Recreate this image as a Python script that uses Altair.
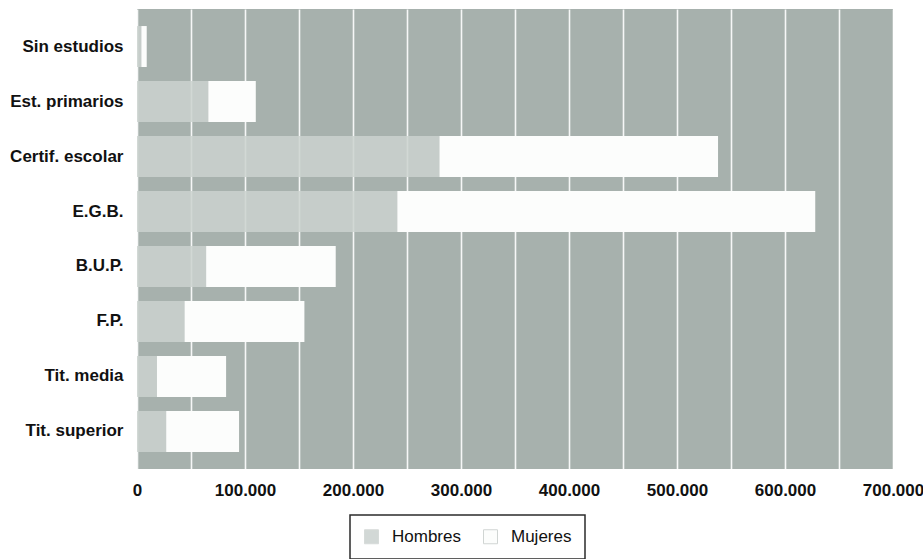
import altair as alt
import pandas as pd

# Niveles de estudios (de arriba abajo) y población por sexo
categorias = [
    "Sin estudios",
    "Est. primarios",
    "Certif. escolar",
    "E.G.B.",
    "B.U.P.",
    "F.P.",
    "Tit. media",
    "Tit. superior",
]
hombres = [4000, 66000, 280000, 241000, 64000, 44000, 18500, 27000]
mujeres = [5000, 44000, 258000, 387000, 120000, 111000, 64000, 67500]

series = ["Hombres", "Mujeres"]
colores = ["#cbd2cf", "#fcfdfc"]
opacidades = [0.85, 1.0]

# Líneas de rejilla cada 50.000; etiquetas cada 100.000
marcas_eje = [0, 50000, 100000, 150000, 200000, 250000, 300000, 350000,
              400000, 450000, 500000, 550000, 600000, 650000, 700000]

filas = []
for cat, h, m in zip(categorias, hombres, mujeres):
    filas.append({"nivel": cat, "sexo": "Hombres", "valor": h, "orden": 0})
    filas.append({"nivel": cat, "sexo": "Mujeres", "valor": m, "orden": 1})
df = pd.DataFrame(filas)

chart = (
    alt.Chart(df)
    .mark_bar()
    .encode(
        y=alt.Y(
            "nivel:N",
            sort=categorias,
            title=None,
            scale=alt.Scale(paddingInner=0.255, paddingOuter=0.31),
            axis=alt.Axis(
                ticks=False,
                domain=False,
                labelFont="Liberation Sans",
                labelFontWeight="bold",
                labelFontSize=17,
                labelColor="#111111",
                labelPadding=14,
            ),
        ),
        x=alt.X(
            "valor:Q",
            stack="zero",
            title=None,
            scale=alt.Scale(domain=[0, 700000], nice=False),
            axis=alt.Axis(
                values=marcas_eje,
                labelExpr="datum.value % 100000 ? '' : replace(format(datum.value, ',d'), ',', '.')",
                ticks=False,
                domain=False,
                grid=True,
                gridColor="#ffffff",
                gridWidth=1.6,
                gridOpacity=0.9,
                labelFont="Liberation Sans",
                labelFontWeight="bold",
                labelFontSize=17,
                labelColor="#111111",
                labelPadding=13,
                labelFlush=False,
                labelOverlap=False,
            ),
        ),
        color=alt.Color(
            "sexo:N",
            scale=alt.Scale(domain=series, range=colores),
            legend=alt.Legend(
                title=None,
                orient="none",
                direction="horizontal",
                legendX=213,
                legendY=506,
                symbolType="square",
                symbolSize=196,
                symbolStrokeColor="#d0d5d3",
                symbolStrokeWidth=1,
                symbolOpacity=1,
                labelFont="Liberation Sans",
                labelFontSize=17,
                labelColor="#111111",
                labelOffset=12,
                columnPadding=20,
                padding=13,
                strokeColor="#2b2b2b",
                fillColor="#ffffff",
            ),
        ),
        opacity=alt.Opacity(
            "sexo:N",
            scale=alt.Scale(domain=series, range=opacidades),
            legend=None,
        ),
        order=alt.Order("orden:Q"),
    )
    .properties(
        width=756,
        height=460,
        autosize=alt.AutoSizeParams(type="none"),
        padding={"left": 137, "top": 9, "right": 30, "bottom": 90},
    )
    .configure(background="#ffffff")
    .configure_view(fill="#a7b1ad", stroke=None)
    .configure_legend(strokeWidth=1.5)
)

chart.save("out.html", embed_options={"renderer": "svg", "actions": False})
